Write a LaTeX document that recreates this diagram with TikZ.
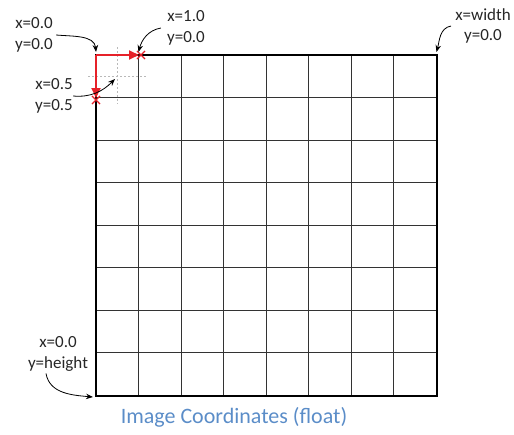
\documentclass[tikz,border=0pt]{standalone}
\usepackage{fontspec}
\setmainfont{Carlito}
\usetikzlibrary{arrows.meta,shapes.misc}
\definecolor{gridgray}{HTML}{333333}
\definecolor{markred}{HTML}{E62129}
\definecolor{capblue}{HTML}{5B8DC8}

\begin{document}
\begin{tikzpicture}[x=1pt,y=-1pt,line width=0.5pt,
  lbl/.style={font=\fontsize{17}{20.5}\selectfont, align=center, inner sep=0pt, text=black!85},
  pointer/.style={-{Stealth[length=7pt,width=5.5pt]}, line width=0.8pt},
  redarrow/.style={markred, line width=2pt, -{Triangle[length=10pt,width=9pt]}},
  redx/.style={cross out, draw=markred, line width=1.1pt, minimum size=7pt, inner sep=0pt}]
  \useasboundingbox (0,0) rectangle (514,434);

  % pixel grid, lines snapped to whole pixels
  \foreach \i [evaluate=\i as \p using {floor(42.5*\i)+0.5}] in {0,...,8}{
    \draw[gridgray, line width=1.1pt] (96+\p,55) -- (96+\p,396);
    \draw[gridgray, line width=1.1pt] (96,55+\p) -- (437,55+\p);
  }
  \draw[black, line width=1.6pt] (96,55) rectangle (437,396);

  \coordinate (origin) at (96,55);
  \coordinate (xone) at (139,55);
  \coordinate (yhalf) at (96,98);
  \coordinate (center) at (117.5,76.5);
  \coordinate (topright) at (437,55);
  \coordinate (botleft) at (96,396);

  % centre of the first pixel
  \draw[gray!55, dash pattern=on 2pt off 2pt, line width=0.6pt] (117.5,47) -- (117.5,104);
  \draw[gray!55, dash pattern=on 2pt off 2pt, line width=0.6pt] (88,76.5) -- (146,76.5);

  % unit axes
  \node[redx] (xmark) at (141,55) {};
  \node[redx] (ymark) at (96,100) {};
  \draw[redarrow] (origin) -- (xone);
  \draw[redarrow] (origin) -- (yhalf);

  % labels
  \node[lbl] (lorigin) at (34,35) {x=0.0\\y=0.0};
  \node[lbl] (lxone) at (186,28) {x=1.0\\y=0.0};
  \node[lbl] (lhalf) at (54,96) {x=0.5\\y=0.5};
  \node[lbl] (lwidth) at (483,26) {x=width\\y=0.0};
  \node[lbl] (lheight) at (58,354) {x=0.0\\y=height};

  \draw[pointer] ([xshift=3pt]lorigin.east) to[out=-5, in=95] (96,52);
  \draw[pointer] ([xshift=-6pt]lxone.west) to[out=190, in=75] (138.5,52);
  \draw[pointer] ([xshift=-4pt]lwidth.west) to[out=190, in=75] (436.5,52);
  \draw[pointer] ([shift={(-12pt,-2pt)}]lheight.south) to[out=-80, in=175] (93,397);
  \draw[pointer] (lhalf.east) to[out=-5, in=225] (115,79);

  \node[font=\fontsize{22}{26}\selectfont, text=capblue] (caption) at (234,417) {Image Coordinates (float)};
\end{tikzpicture}
\end{document}
